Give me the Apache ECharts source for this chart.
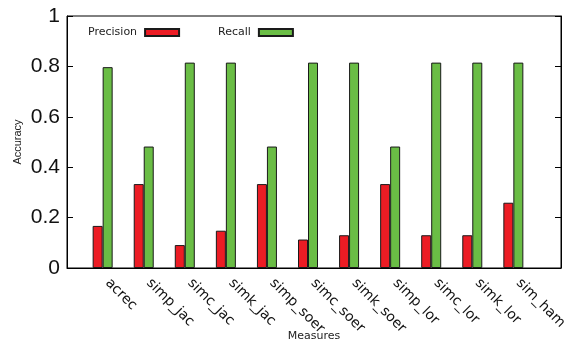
<!DOCTYPE html>
<html>
<head>
<meta charset="utf-8">
<style>
  html, body { margin: 0; padding: 0; background: #fff; }
  #chart { width: 570px; height: 345px; }
</style>
<script src="https://cdn.jsdelivr.net/npm/echarts@6/dist/echarts.min.js"></script>
</head>
<body>
<div id="chart"></div>
<script>
// Similarity measures compared on precision and recall
const categories = ['acrec', 'simp_jac', 'simc_jac', 'simk_jac', 'simp_soer', 'simc_soer',
                    'simk_soer', 'simp_lor', 'simc_lor', 'simk_lor', 'sim_ham'];
const precision = [0.167, 0.333, 0.091, 0.148, 0.333, 0.113, 0.130, 0.333, 0.130, 0.130, 0.259];
const recall    = [0.797, 0.482, 0.815, 0.815, 0.482, 0.815, 0.815, 0.482, 0.815, 0.815, 0.815];
const yTicks = [0, 0.2, 0.4, 0.6, 0.8, 1];

const positions = categories.map((_, i) => i);
const toPairs = vals => vals.map((v, i) => [positions[i], v]);

const chart = echarts.init(document.getElementById('chart'), null, { renderer: 'canvas' });

const barBorder = { borderColor: '#1a1a1a', borderWidth: 1 };

chart.setOption({
  animation: false,
  backgroundColor: '#fff',
  grid: {
    left: 67, right: 9, top: 16, bottom: 77,
    outerBoundsMode: 'none',
    containLabel: false,
    show: true, borderColor: '#000', borderWidth: 1, backgroundColor: '#fff'
  },
  legend: {
    left: 83, top: 22,
    align: 'right',
    itemWidth: 34, itemHeight: 7, itemGap: 38,
    icon: 'rect',
    textStyle: { fontFamily: 'DejaVu Sans', fontSize: 11, color: '#222', padding: [0, 3, 0, 0] },
    data: ['Precision', 'Recall']
  },
  xAxis: {
    type: 'value',
    min: -0.868, max: 11.16,
    name: 'Measures',
    nameLocation: 'middle',
    nameGap: 63,
    nameMoveOverlap: false,
    nameTextStyle: { fontFamily: 'DejaVu Sans', fontSize: 11, color: '#222' },
    axisLine: { show: true, onZero: false, lineStyle: { color: '#000', width: 1 } },
    axisTick: { show: false },
    splitLine: { show: false },
    axisLabel: {
      customValues: positions,
      formatter: v => categories[Math.round(v)] || '',
      rotate: -45,
      margin: 8,
      padding: [0, 0, 0, 7],
      fontFamily: 'DejaVu Sans', fontSize: 14, color: '#111'
    }
  },
  yAxis: [
    {
      type: 'value', min: 0, max: 1, interval: 0.2,
      position: 'left',
      name: 'Accuracy',
      nameLocation: 'middle',
      nameRotate: 90,
      nameGap: 44,
      nameMoveOverlap: false,
      nameTextStyle: { fontFamily: 'Liberation Sans', fontSize: 11, color: '#222' },
      axisLine: { show: true, onZero: false, lineStyle: { color: '#000', width: 1 } },
      axisTick: { show: true, inside: true, length: 6, lineStyle: { color: '#000' } },
      splitLine: { show: false },
      axisLabel: {
        customValues: yTicks,
        formatter: v => String(v),
        margin: 7,
        padding: [6, 0, 0, 0],
        fontFamily: 'Liberation Sans', fontSize: 21, color: '#111'
      }
    },
    {
      type: 'value', min: 0, max: 1, interval: 0.2,
      position: 'right',
      axisLine: { show: true, onZero: false, lineStyle: { color: '#000', width: 1 } },
      axisTick: { show: true, inside: true, length: 6, lineStyle: { color: '#000' } },
      splitLine: { show: false },
      axisLabel: { show: false }
    }
  ],
  series: [
    {
      name: 'Precision', type: 'bar',
      data: toPairs(precision),
      barWidth: 10, barGap: '0%',
      itemStyle: Object.assign({ color: '#ec1c24' }, barBorder)
    },
    {
      name: 'Recall', type: 'bar',
      data: toPairs(recall),
      barWidth: 10, barGap: '0%',
      itemStyle: Object.assign({ color: '#6abd45' }, barBorder)
    }
  ]
});
</script>
</body>
</html>
